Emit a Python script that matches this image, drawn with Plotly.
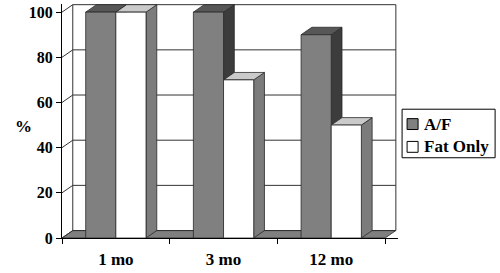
import plotly.graph_objects as go

categories = ["1 mo", "3 mo", "12 mo"]
af_values = [100, 100, 90]
fat_values = [100, 70, 50]
y_ticks = [0, 20, 40, 60, 80, 100]
series_names = ["A/F", "Fat Only"]

# styling / geometry constants
W, H = 500, 273
DX, DY = 0.1, 3.3          # pseudo-3D depth in data units
BW = 0.28                   # bar width in category units
X0, X1 = -0.5, 2.5 + DX + 0.02
Y0, Y1 = 0, 100 + DY + 0.3
LEFT, BOTTOM = 62, 33
pxu_x = (385 - 62) / 3.0
pxu_y = 228 / 100.0
plot_w = (X1 - X0) * pxu_x
plot_h = (Y1 - Y0) * pxu_y
RIGHT = W - LEFT - plot_w
TOP = H - BOTTOM - plot_h

FONT = "'Liberation Serif', 'Times New Roman', Times, 'DejaVu Serif', serif"
AF_FRONT, AF_TOP, AF_SIDE = "#808080", "#575757", "#3c3c3c"
FAT_FRONT, FAT_TOP, FAT_SIDE = "#ffffff", "#cacaca", "#7c7c7c"
EDGE = "#2a2a2a"

def px(xp):
    return (xp - LEFT) / plot_w

def py(yp):
    return (H - BOTTOM - yp) / plot_h

xs = list(range(len(categories)))

def poly(pts, fill, lw=0.8, color=EDGE):
    d = "M " + " L ".join(f"{x},{y}" for x, y in pts) + " Z"
    return dict(type="path", path=d, xref="x", yref="y", fillcolor=fill,
                line=dict(color=color, width=lw), layer="below")

def line(pts, color="#333333", lw=1):
    d = "M " + " L ".join(f"{x},{y}" for x, y in pts)
    return dict(type="path", path=d, xref="x", yref="y",
                line=dict(color=color, width=lw), layer="below")

shapes = []
# floor
shapes.append(poly([(-0.5, 0), (2.5, 0), (2.5 + DX, DY), (-0.5 + DX, DY)], "#7f7f7f"))
# gridlines on side wall and back wall
for v in y_ticks:
    shapes.append(line([(-0.5, v), (-0.5 + DX, v + DY), (2.5 + DX, v + DY)]))
# back wall vertical edges
shapes.append(line([(-0.5 + DX, DY), (-0.5 + DX, 100 + DY)]))
shapes.append(line([(2.5 + DX, DY), (2.5 + DX, 100 + DY)]))

def faces(vals, offset, top_c, side_c):
    out = []
    for i, v in zip(xs, vals):
        a = i + offset
        b = a + BW
        out.append(poly([(b, 0), (b, v), (b + DX, v + DY), (b + DX, DY)], side_c))
        out.append(poly([(a, v), (b, v), (b + DX, v + DY), (a + DX, v + DY)], top_c))
    return out

shapes += faces(af_values, -BW, AF_TOP, AF_SIDE)
shapes += faces(fat_values, 0.0, FAT_TOP, FAT_SIDE)

# legend (drawn in paper coordinates)
shapes.append(dict(type="rect", xref="paper", yref="paper", x0=px(402), x1=px(495),
                   y0=py(159), y1=py(110), line=dict(color="black", width=1),
                   fillcolor="white"))
legend_colors = [AF_FRONT, FAT_FRONT]
legend_rows = [125, 148]
annotations = []
for name, col, yc in zip(series_names, legend_colors, legend_rows):
    shapes.append(dict(type="rect", xref="paper", yref="paper", x0=px(407), x1=px(418),
                       y0=py(yc + 5.5), y1=py(yc - 5.5), fillcolor=col,
                       line=dict(color="black", width=1)))
    annotations.append(dict(text=f"<b>{name}</b>", x=px(422), y=py(yc), xref="paper",
                            yref="paper", xanchor="left", yanchor="middle",
                            showarrow=False, font=dict(family=FONT, size=17)))
annotations.append(dict(text="<b>%</b>", x=px(13), y=py(127), xref="paper", yref="paper",
                        showarrow=False, font=dict(family=FONT, size=17)))

fig = go.Figure()
fig.add_trace(go.Bar(x=xs, y=af_values, name=series_names[0], width=BW, offset=-BW,
                     marker=dict(color=AF_FRONT, line=dict(color=EDGE, width=0.8))))
fig.add_trace(go.Bar(x=xs, y=fat_values, name=series_names[1], width=BW, offset=0,
                     marker=dict(color=FAT_FRONT, line=dict(color=EDGE, width=0.8))))
# helper trace for the boundary-tick axis
fig.add_trace(go.Scatter(x=[X0], y=[0], xaxis="x2", mode="markers",
                         marker=dict(opacity=0), showlegend=False, hoverinfo="skip"))

fig.update_layout(
    width=W, height=H,
    margin=dict(l=LEFT, r=RIGHT, t=TOP, b=BOTTOM),
    paper_bgcolor="white", plot_bgcolor="white",
    barmode="overlay",
    showlegend=False,
    shapes=shapes,
    annotations=annotations,
    font=dict(family=FONT, color="black"),
    xaxis=dict(range=[X0, X1], tickvals=xs, ticktext=[f"<b>{c}</b>" for c in categories],
               ticks="", showgrid=False, zeroline=False, showline=True, linecolor="black",
               linewidth=1, tickfont=dict(family=FONT, size=17), ticklabelstandoff=6),
    xaxis2=dict(range=[X0, X1], overlaying="x", side="bottom", anchor="y",
                tickvals=[-0.5, 0.5, 1.5, 2.5], showticklabels=False,
                ticks="outside", ticklen=5, tickcolor="black", showgrid=False,
                zeroline=False),
    yaxis=dict(range=[Y0, Y1], tickvals=y_ticks,
               ticktext=[f"<b>{v}</b>" for v in y_ticks],
               ticks="outside", ticklen=5,
               tickcolor="black", showgrid=False, zeroline=False, showline=True,
               linecolor="black", linewidth=1,
               tickfont=dict(family=FONT, size=16)),
)

fig.write_html("out.html")
